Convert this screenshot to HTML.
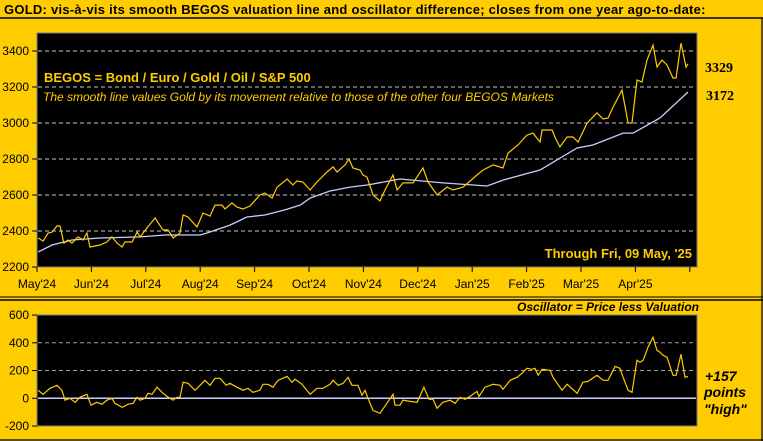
<!DOCTYPE html>
<html><head><meta charset="utf-8"><style>
html,body{margin:0;padding:0;background:#FFCC00;}
svg{display:block;font-family:"Liberation Sans",Arial,sans-serif;}
</style></head><body>
<svg id="chart" width="763" height="441" viewBox="0 0 763 441" xmlns="http://www.w3.org/2000/svg">
<rect x="0" y="0" width="763" height="441" fill="#FFCC00"/>
<text x="4" y="14" font-size="13" font-weight="bold" fill="#000" letter-spacing="0.25">GOLD:  vis-à-vis its smooth BEGOS valuation line and oscillator difference; closes from one year ago-to-date:</text>
<line x1="0" y1="18" x2="763" y2="18" stroke="#000" stroke-width="1.5"/>
<line x1="762" y1="18" x2="762" y2="441" stroke="#000" stroke-width="1.2"/>
<line x1="0" y1="297" x2="763" y2="297" stroke="#000" stroke-width="1"/>
<line x1="0" y1="300" x2="763" y2="300" stroke="#000" stroke-width="1.6"/>
<line x1="0" y1="440" x2="763" y2="440" stroke="#000" stroke-width="1.2"/>
<rect x="37" y="33" width="660" height="234" fill="#000" stroke="#808080" stroke-width="1"/>
<rect x="37" y="315" width="660" height="111" fill="#000" stroke="#808080" stroke-width="1"/>
<g id="top-grid"></g><g id="bot-grid"></g><g id="series"></g>
<text x="44" y="82" font-size="13" font-weight="bold" fill="#FFCC00">BEGOS = Bond / Euro / Gold / Oil / S&amp;P 500</text>
<text x="43" y="101" font-size="12" font-style="italic" fill="#FFCC00">The smooth line values Gold by its movement relative to those of the other four BEGOS Markets</text>
<text x="692" y="258" font-size="13" font-weight="bold" fill="#FFCC00" text-anchor="end">Through Fri, 09 May, '25</text>
<text x="705" y="72" font-size="14" font-weight="bold" fill="#000" font-family="Liberation Serif,serif">3329</text>
<text x="706" y="100" font-size="14" font-weight="bold" fill="#000" font-family="Liberation Serif,serif">3172</text>
<text x="608" y="311" font-size="12" font-weight="bold" font-style="italic" fill="#000" text-anchor="middle">Oscillator = Price less Valuation</text>
<text x="705" y="381" font-size="14" font-weight="bold" font-style="italic" fill="#000">+157</text>
<text x="704" y="397" font-size="14" font-weight="bold" font-style="italic" fill="#000">points</text>
<text x="704" y="414" font-size="14" font-weight="bold" font-style="italic" fill="#000">"high"</text>
</svg>
<script>
const priceDays=[0.6,3.4,6.2,8.4,11.2,12.9,15.1,17.4,19.6,23,25.8,28,29.7,35.3,39.2,42,44.9,47.7,49.3,53.3,56.1,57.8,61.7,66.2,70.6,73.5,76.3,80.2,81.9,84.7,89.7,93.1,97,99.8,103.7,105.4,109.3,112.1,115.5,119.4,125,127.8,131.8,134.6,140.2,143.5,145.8,149.1,153.1,157,162.6,166,168.2,172.7,174.9,177.2,181.1,182.8,185,188.4,192.3,195.1,199.6,201.9,205.2,210.8,216.4,219.2,224.3,229.9,233.3,238.9,246.7,250.1,255.7,261.3,264.1,269.7,274.7,278.1,282,283.2,288.8,290.4,293.2,297.2,300.5,303.3,308.4,314,317.4,320.2,323,328,331.4,333.6,336.4,339.2,342,345.4,347.6,350.4,353.2,356.6,358.3,361.1,363.9,365];
const priceVals=[2361,2344,2389,2394,2428,2428,2333,2350,2333,2367,2350,2389,2311,2322,2339,2367,2333,2311,2339,2339,2394,2367,2417,2472,2406,2406,2361,2389,2489,2478,2422,2500,2483,2544,2544,2522,2556,2533,2522,2539,2600,2611,2583,2644,2689,2656,2678,2672,2628,2672,2728,2756,2728,2767,2800,2750,2739,2711,2700,2600,2567,2628,2711,2628,2667,2667,2750,2672,2600,2644,2628,2644,2711,2739,2767,2750,2833,2878,2933,2944,2894,2961,2961,2922,2867,2922,2922,2894,3000,3056,3022,3028,3089,3183,3000,3000,3239,3228,3350,3433,3311,3350,3322,3250,3250,3444,3311,3329];
const valDays=[0.6,8.4,19.6,35.3,57.8,71.8,91.4,95.3,108.2,117.7,127.8,139,147.5,153.1,164.3,175.5,185.6,203.5,227.6,252.3,261.3,282,302.8,311.7,328.6,334.2,349.3,365];
const valVals=[2283,2322,2350,2361,2367,2378,2378,2389,2433,2478,2489,2517,2544,2583,2622,2644,2656,2689,2667,2650,2683,2739,2861,2878,2944,2944,3028,3172];
const oscDays=[0.6,3.4,7.3,11.2,14,15.7,18.5,21.3,24.1,28,30.3,33.6,36.4,39.2,42,43.7,47.7,51,53.8,56.1,57.8,60.6,62.2,64.5,67.3,70.1,72.9,76.3,78.5,80.2,81.9,84.7,88.6,91.4,94.2,97,99.8,102.6,106,108.2,112.1,115.5,118.3,121.1,125,126.7,129.5,132.3,135.1,140.2,143,144.7,148.6,153.1,157,160.4,164.3,166,168.8,171.6,174.4,176.6,180,182.2,183.9,185.6,188.4,192.3,196.2,199.6,200.7,203.5,205.2,209.2,213.1,216.9,219.8,222,224.3,227.6,231.6,234.4,237.2,240,242.8,246.7,247.8,251.2,255.7,259.6,261.3,265.3,269.1,271.9,274.7,277.5,279.2,281,283.2,287.7,289.3,294.4,297.2,302.8,306.1,308.9,314,317.4,320.2,324.1,326.9,328.6,331.4,333.6,336.4,338.1,339.8,342.6,345.4,347.6,349.3,351,353.2,356.6,358.3,361.1,363.3,365];
const oscVals=[58,29,72,94,58,-14,0,-29,7,29,-50,-29,-43,-14,0,-36,-65,-43,-36,7,-14,0,36,29,80,43,14,-14,7,7,115,108,58,94,130,94,144,144,94,108,80,58,72,43,58,101,101,80,130,158,116,137,101,29,72,72,101,130,94,108,151,94,94,22,58,0,-87,-108,-36,29,-50,-50,-14,-22,-29,80,-7,-7,-72,-29,-14,-36,7,-7,14,50,14,80,101,94,65,130,151,180,216,209,216,166,209,202,151,58,101,36,115,122,166,130,130,230,216,151,58,43,274,260,274,368,440,346,332,310,296,166,166,317,151,157];
const monthLabels=["May'24","Jun'24","Jul'24","Aug'24","Sep'24","Oct'24","Nov'24","Dec'24","Jan'25","Feb'25","Mar'25","Apr'25",""];
const monthDays=[0,30.5,61,91.5,122,152.5,183,213.5,244,274.5,305,335.5,366];
const priceTicks=[2200,2400,2600,2800,3000,3200,3400];
const oscTicks=[-200,0,200,400,600];

const NS="http://www.w3.org/2000/svg";
const X0=37,X1=688,D0=0,D1=365;
function xs(d){return X0+(d-D0)/(D1-D0)*(X1-X0);}
function yTop(v){return 267-(v-2200)*(216/1200);}
function yBot(v){return 398.3-v*(111/800);}
function mk(tag,attrs,parent){const e=document.createElementNS(NS,tag);for(const k in attrs)e.setAttribute(k,attrs[k]);parent.appendChild(e);return e;}
const tg=document.getElementById('top-grid'),bg=document.getElementById('bot-grid'),sg=document.getElementById('series');

priceTicks.forEach(v=>{
  const y=yTop(v);
  if(v>2200){const l=mk('line',{x1:38,x2:696,y1:y,y2:y,stroke:'#c8c8c8','stroke-dasharray':'4,3','stroke-width':1},tg);
  
  }
  const t=mk('line',{x1:32,x2:37,y1:y,y2:y,stroke:'#000'},tg);
  
  
  const tx=mk('text',{x:29,y:y+4,'font-size':12,'text-anchor':'end',fill:'#000'},tg);tx.textContent=v;
  
  
});
monthDays.forEach((d,i)=>{
  const x=xs(d);
  const t=mk('line',{x1:x,x2:x,y1:267,y2:272,stroke:'#000'},tg);
  
  
  if(monthLabels[i]){const tx=mk('text',{x:x,y:288,'font-size':12,'text-anchor':'middle',fill:'#000'},tg);tx.textContent=monthLabels[i];
  
  }
});
oscTicks.forEach(v=>{
  const y=yBot(v);
  if(v===200||v===400){const l=mk('line',{x1:38,x2:696,y1:y,y2:y,stroke:'#a0a0a0','stroke-dasharray':'4,3','stroke-width':1},bg);
  
  }
  const t=mk('line',{x1:32,x2:37,y1:y,y2:y,stroke:'#000'},bg);
  
  
  const tx=mk('text',{x:29,y:y+4,'font-size':12,'text-anchor':'end',fill:'#000'},bg);tx.textContent=v;
  
  
});
const z=mk('line',{x1:38,x2:696,y1:yBot(0),y2:yBot(0),stroke:'#ccccff','stroke-width':1.5},bg);



function pts(ds,vs,f){return ds.map((d,i)=>xs(d).toFixed(1)+','+f(vs[i]).toFixed(1)).join(' ');}
const vl=mk('polyline',{points:pts(valDays,valVals,yTop),fill:'none',stroke:'#ccccff','stroke-width':1.3},sg);


const pl=mk('polyline',{points:pts(priceDays,priceVals,yTop),fill:'none',stroke:'#FFCC00','stroke-width':1.2},sg);


const ol=mk('polyline',{points:pts(oscDays,oscVals,yBot),fill:'none',stroke:'#FFCC00','stroke-width':1.2},sg);


</script>
</body></html>
